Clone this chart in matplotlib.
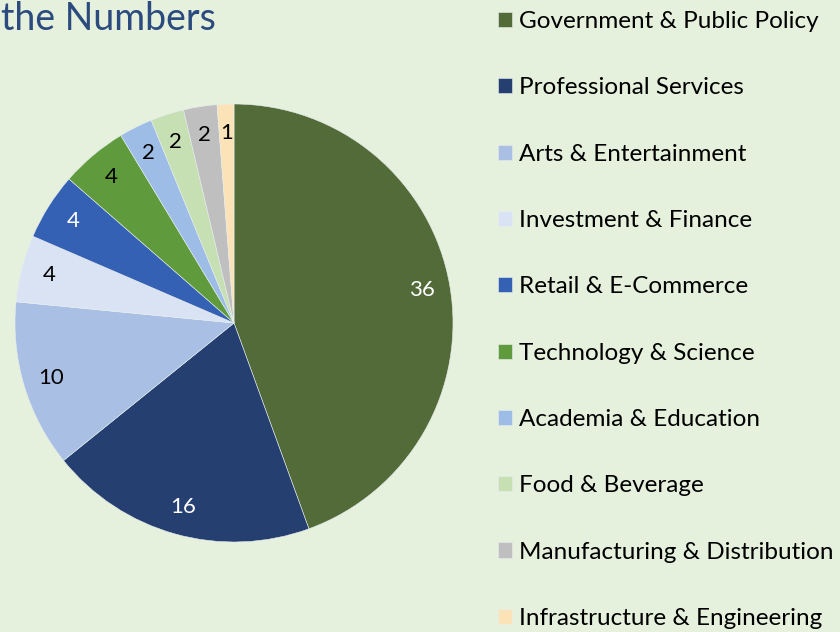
import matplotlib.pyplot as plt

categories = [
    "Government & Public Policy",
    "Professional Services",
    "Arts & Entertainment",
    "Investment & Finance",
    "Retail & E-Commerce",
    "Technology & Science",
    "Academia & Education",
    "Food & Beverage",
    "Manufacturing & Distribution",
    "Infrastructure & Engineering",
]
counts = [36, 16, 10, 4, 4, 4, 2, 2, 2, 1]
colors = ["#536b38", "#243f70", "#a9c0e4", "#dae3f3", "#3461b4",
          "#5f9a3c", "#9dbde6", "#c6e0b4", "#bfbfbf", "#fbe3b7"]
label_colors = ["white", "white", "black", "black", "white",
                "black", "black", "black", "black", "black"]

bg = "#e5f0dd"
W, H = 840, 632

plt.rcParams["font.family"] = ["Lato", "DejaVu Sans"]

fig = plt.figure(figsize=(W / 100, H / 100), dpi=100, facecolor=bg)

# pie: centre (234, 323) px, radius 219 px
cx, cy, r = 234, 323, 219
ax = fig.add_axes([(cx - r) / W, (H - cy - r) / H, 2 * r / W, 2 * r / H])
ax.set_facecolor(bg)
wedges, texts, autotexts = ax.pie(
    counts, colors=colors, startangle=90, counterclock=False,
    autopct=lambda p: "%d" % round(p * sum(counts) / 100),
    pctdistance=0.87,
    wedgeprops=dict(edgecolor="#e8eef0", linewidth=0.4),
    textprops=dict(fontsize=16),
)
for t, c in zip(autotexts, label_colors):
    t.set_color(c)
ax.set_xlim(-1, 1)
ax.set_ylim(-1, 1)
ax.set_aspect("equal")

fig.text(1 / W, 1 - 30 / H, "the Numbers", fontsize=27, color="#2b4a7e",
         va="baseline", ha="left")

fig.legend(wedges, categories, loc="upper left",
           bbox_to_anchor=(498 / W, 1 - 11 / H), frameon=False,
           fontsize=17.5, handlelength=0.58, handleheight=0.58,
           handletextpad=0.3, labelspacing=1.865, borderpad=0,
           borderaxespad=0)

fig.savefig("out.png", dpi=100, facecolor=bg)
